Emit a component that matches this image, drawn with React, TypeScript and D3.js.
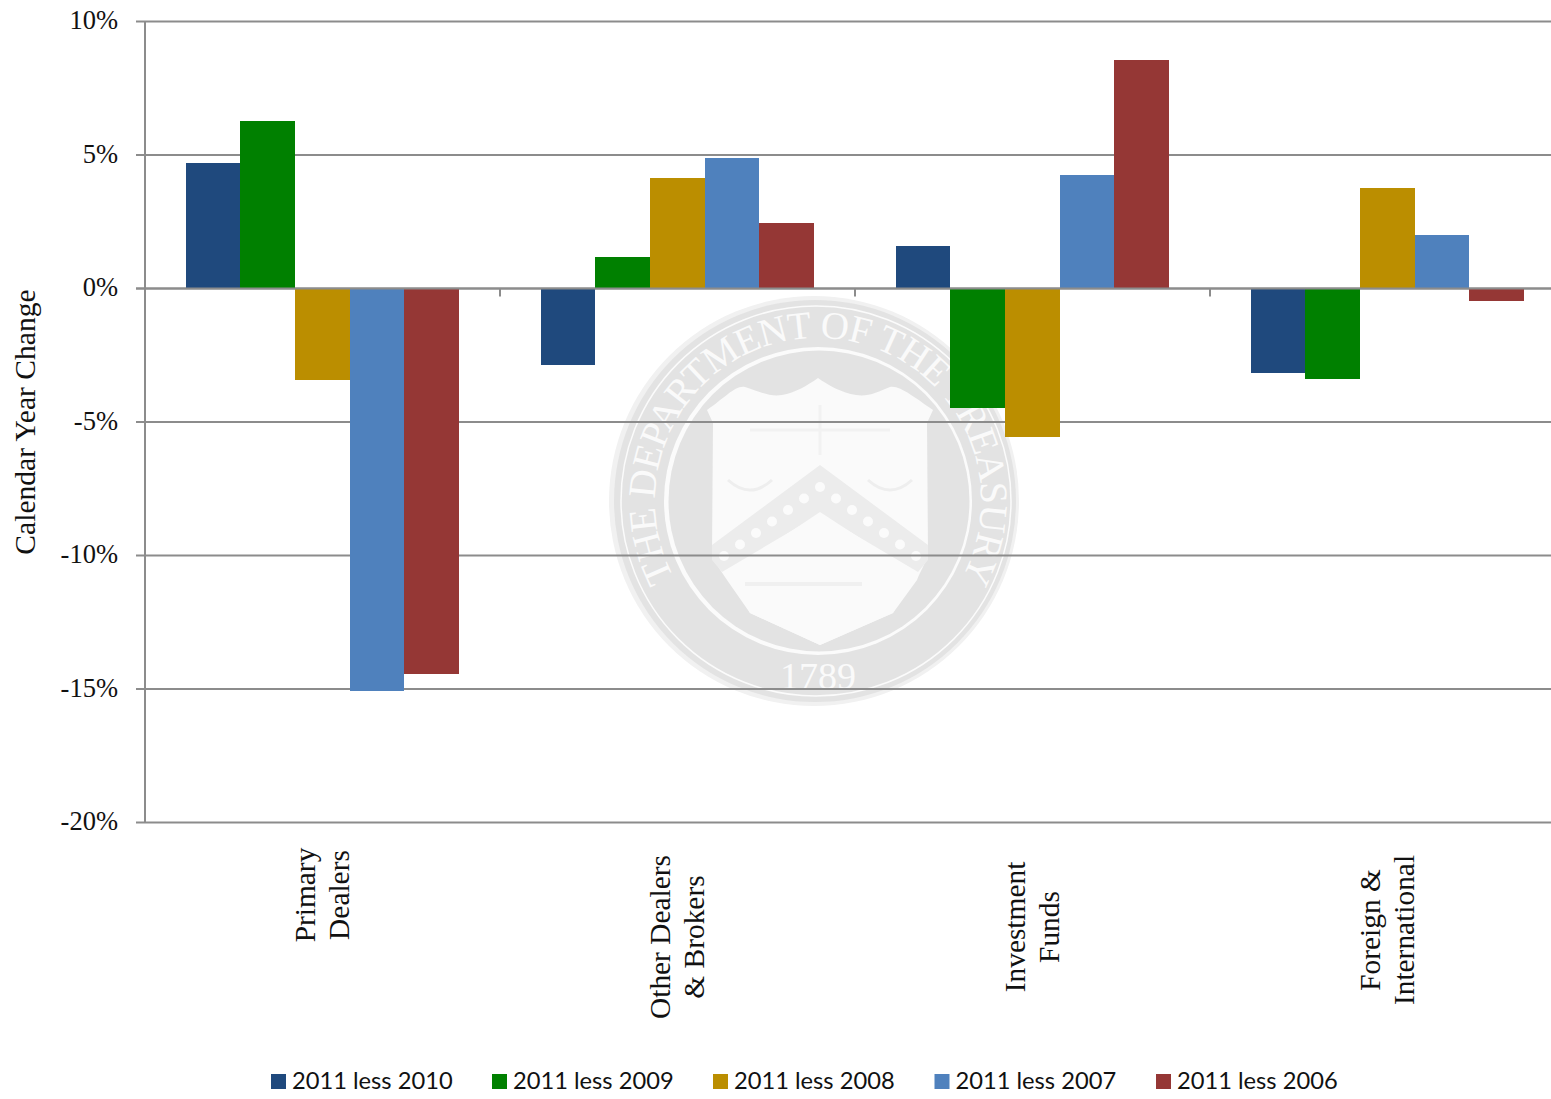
import React from "react";
import * as d3 from "d3";

const categories = [["Primary", "Dealers"], ["Other Dealers", "& Brokers"], ["Investment", "Funds"], ["Foreign &", "International"]];
const seriesNames = ["2011 less 2010", "2011 less 2009", "2011 less 2008", "2011 less 2007", "2011 less 2006"];
const seriesColors = ["#1f497d", "#008000", "#bb8e00", "#4f81bd", "#953735"];
const less2010 = [4.7, -2.87, 1.58, -3.17];
const less2009 = [6.26, 1.17, -4.47, -3.4];
const less2008 = [-3.43, 4.15, -5.57, 3.75];
const less2007 = [-15.07, 4.9, 4.25, 2.0];
const less2006 = [-14.43, 2.45, 8.55, -0.47];
const seriesValues = [less2010, less2009, less2008, less2007, less2006];
const yTicks = [10, 5, 0, -5, -10, -15, -20];

const SERIF = "'Liberation Serif', serif";
const W = 1551, H = 1099;
const y = d3.scaleLinear().domain([10, -20]).range([21.5, 822.5]);
const x0 = d3.scaleBand<number>().domain([0, 1, 2, 3]).range([145, 1565]);
const x1 = d3.scaleBand<number>().domain([0, 1, 2, 3, 4]).range([40.6, 40.6 + 273.5]);
const labelMid = [895, 937, 927, 930];
const legendX = [271, 492, 713, 934.5, 1156];

const SC = { x: 818, y: 501 };
const polar = (r: number, deg: number) => {
  const a = (deg * Math.PI) / 180;
  return [SC.x + r * Math.cos(a), SC.y + r * Math.sin(a)];
};
const arcPath = (r: number) => {
  const [ax, ay] = polar(r, 152);
  const [bx, by] = polar(r, 28);
  return `M${ax},${ay} A${r},${r} 0 1 1 ${bx},${by}`;
};
const shield = "M707,410 C725,398 735,385 745,387 C760,392 770,397 782,395 C795,393 808,385 818,378 C828,385 842,393 856,395 C868,397 878,392 890,387 C900,385 915,398 933,410 L927,423 L928,553 C925,565 920,572 917,580 L893,613 L820,645 L750,613 L727,580 C720,570 715,562 712,553 L713,423 Z";
const chevron = "M712,545 L820,465 L928,545 L928,560 L918,572 L820,514 L722,572 L712,560 Z";
const stars = d3.range(-6, 7).map((i) => ({ x: 820 + i * 16, y: 487 + Math.abs(i) * 11.5 }));

function Seal() {
  return (
    <g>
      <defs><path id="sealText" d={arcPath(163)} /></defs>
      <circle cx={814} cy={501} r={205} fill="#f1f1f1" />
      <circle cx={815} cy={501} r={201} fill="#e3e3e3" />
      <circle cx={816} cy={501} r={195} fill="none" stroke="#fbfbfb" strokeWidth={1.5} />
      <circle cx={818} cy={501} r={154} fill="#fbfbfb" />
      <circle cx={819} cy={501} r={150.5} fill="#e3e3e3" />
      <text fontFamily={SERIF} fontSize={39} fill="#fafafa" textLength={672}>
        <textPath href="#sealText" textLength={672}>THE DEPARTMENT OF THE TREASURY</textPath>
      </text>
      <path d={shield} fill="#fafafa" />
      <path d={chevron} fill="#ececec" />
      {stars.map((s, i) => (<circle key={i} cx={s.x} cy={s.y} r={5} fill="#fbfbfb" />))}
      <path d="M820,512 L730,572 L750,613 L820,645 L893,613 L912,572 Z" fill="#fafafa" />
      <path d="M745,584 L862,584" stroke="#f0f0f0" strokeWidth={4} />
      <path d="M820,405 L820,455 M750,430 L890,430" stroke="#f2f2f2" strokeWidth={3} />
      <path d="M728,480 Q750,500 772,480 M868,480 Q890,500 912,480" fill="none" stroke="#eeeeee" strokeWidth={3} />
      <text x={818} y={689} textAnchor="middle" fontFamily={SERIF} fontSize={38} fill="#fafafa">1789</text>
    </g>
  );
}

export default function App() {
  return (
    <svg width={W} height={H} viewBox={`0 0 ${W} ${H}`} style={{ position: "absolute", left: 0, top: 0, background: "#fff" }}>
      <Seal />
      {yTicks.map((t) => (
        <g key={t}>
          <line x1={136} x2={W} y1={y(t)} y2={y(t)} stroke="#8c8c8c" strokeWidth={2} />
          <text x={118} y={y(t) + 7.5} textAnchor="end" fontFamily={SERIF} fontSize={26.5} fill="#111">{t}%</text>
        </g>
      ))}
      <line x1={145} x2={145} y1={y(10)} y2={y(-20)} stroke="#8c8c8c" strokeWidth={2} />
      {[1, 2, 3].map((i) => (
        <line key={i} x1={x0(i)!} x2={x0(i)!} y1={y(0)} y2={y(0) + 8} stroke="#8c8c8c" strokeWidth={2} />
      ))}
      {seriesValues.map((vals, s) => vals.map((v, c) => {
        const left = Math.round(x0(c)! + x1(s)!);
        const right = Math.round(x0(c)! + x1(s)! + x1.bandwidth());
        const top = Math.round(Math.min(y(v), y(0)));
        const bottom = Math.round(Math.max(y(v), y(0)));
        return <rect key={`${s}-${c}`} x={left} width={right - left} y={top} height={bottom - top} fill={seriesColors[s]} />;
      }))}
      <line x1={136} x2={W} y1={y(0)} y2={y(0)} stroke="#8c8c8c" strokeWidth={2} />
      <text transform={`translate(34.5,422) rotate(-90)`} textAnchor="middle" fontFamily={SERIF} fontSize={29.6} fill="#111">Calendar Year Change</text>
      {categories.map((lines, c) => lines.map((l, i) => (
        <text key={l} transform={`translate(${x0(c)! + x0.bandwidth() / 2 + 3 + i * 34 - 11},${labelMid[c]}) rotate(-90)`}
          textAnchor="middle" fontFamily={SERIF} fontSize={29.4} fill="#111">{l}</text>
      )))}
      {seriesNames.map((n, i) => (
        <g key={n}>
          <rect x={legendX[i]} y={1074} width={15} height={15} fill={seriesColors[i]} />
          <text x={legendX[i] + 21} y={1089} fontFamily="Lato, sans-serif" fontSize={23.7} fill="#111">{n}</text>
        </g>
      ))}
    </svg>
  );
}
